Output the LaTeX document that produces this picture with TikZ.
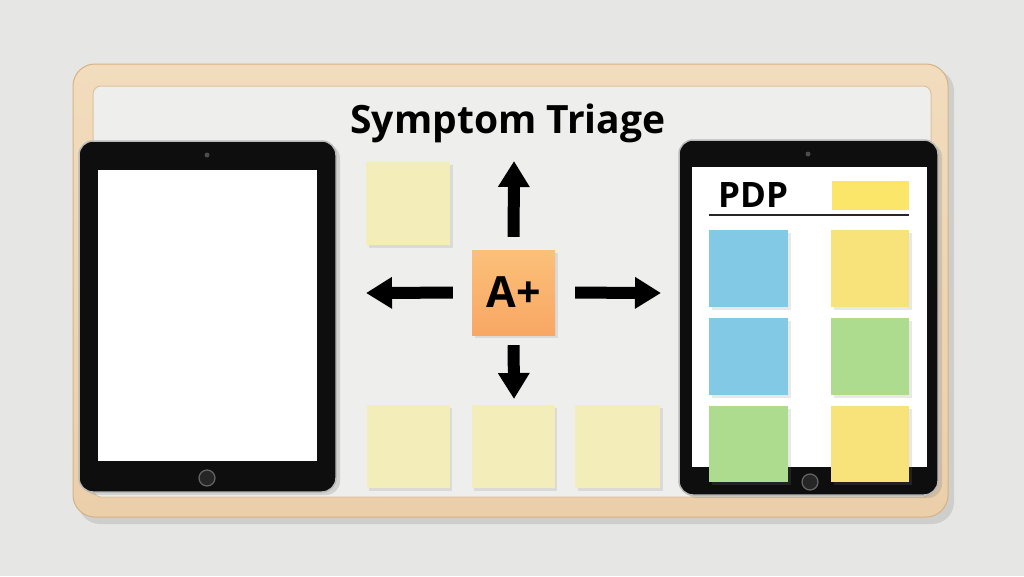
\documentclass[tikz,border=0pt]{standalone}
\usepackage{fontspec}
\setmainfont{Open Sans}
\usetikzlibrary{arrows.meta,shadows}
\definecolor{wall}{HTML}{E6E6E4}
\definecolor{wood}{HTML}{EBCFAA}
\definecolor{woodlight}{HTML}{F1DCBD}
\definecolor{wooddark}{HTML}{D6B285}
\definecolor{board}{HTML}{EEEEED}
\definecolor{pale}{HTML}{F3EDB9}
\definecolor{skyb}{HTML}{82C9E6}
\definecolor{sunny}{HTML}{F8E27A}
\definecolor{leaf}{HTML}{AEDC8E}
\definecolor{brightyel}{HTML}{FBE66A}
\definecolor{orangetop}{HTML}{FBC07A}
\definecolor{orangebot}{HTML}{F8A763}
\definecolor{bezel}{HTML}{0E0E0E}
\tikzset{
  note/.style={inner sep=0pt, draw=none,
    drop shadow={opacity=0.18, shadow xshift=2.5pt, shadow yshift=-2.5pt}},
  tabletbody/.style={fill=bezel, draw=gray!55, line width=1.5pt, rounded corners=14pt,
    drop shadow={opacity=0.25, shadow xshift=4pt, shadow yshift=-3pt}},
  screen/.style={fill=white, draw=none},
  bigarrow/.style={line width=12pt, -{Triangle[width=30pt,length=26pt]}},
  txt/.style={font=\bfseries, text=black, inner sep=0pt}
}
\begin{document}
\begin{tikzpicture}[x=1pt,y=-1pt]
\useasboundingbox (0,0) rectangle (1024,576);
\fill[wall] (0,0) rectangle (1024,576);
% frame
\fill[black, opacity=0.10, rounded corners=22pt] (78,69) rectangle (954,524);
\path[top color=woodlight, bottom color=wood, draw=wooddark, line width=1pt, rounded corners=22pt] (73,64) rectangle (948,517);
\path[fill=board, draw=wooddark!80, line width=1pt, rounded corners=8pt] (93,86) rectangle (931,497);
% left tablet
\node[tabletbody, minimum width=257pt, minimum height=351pt] (ltab) at (207.5,316.5) {};
\node[screen, minimum width=219pt, minimum height=291pt] (lscr) at (207.5,315.5) {};
\node[circle, fill=black!70, minimum size=5pt, inner sep=0pt] (lcam) at (207,155) {};
\node[circle, fill=black!85, draw=black!60, line width=1.2pt, minimum size=16pt, inner sep=0pt] (lhome) at (207,478) {};
% right tablet
\node[tabletbody, minimum width=259pt, minimum height=355pt] (rtab) at (808.5,317.5) {};
\node[screen, minimum width=235pt, minimum height=300pt] (rscr) at (809.5,317) {};
\node[circle, fill=black!70, minimum size=5pt, inner sep=0pt] (rcam) at (808,154) {};
\node[circle, fill=black!85, draw=black!60, line width=1.2pt, minimum size=16pt, inner sep=0pt] (rhome) at (810,482) {};
% PDP header
\node[txt, font=\bfseries\fontsize{35}{35}\selectfont, anchor=west] (pdp) at (718,195) {PDP};
\node[fill=brightyel, inner sep=0pt, minimum width=77pt, minimum height=29pt] (hdr) at (870,195.5) {};
\coordinate (lineL) at (709,214.5);
\coordinate (lineR) at (909,214.5);
\draw[line width=2pt, black!85] (lineL) -- (lineR);
% right tablet notes
\node[note, fill=skyb, minimum width=79pt, minimum height=77pt] (r11) at (748.5,268.5) {};
\node[note, fill=sunny, minimum width=78pt, minimum height=77pt] (r12) at (870,268.5) {};
\node[note, fill=skyb, minimum width=79pt, minimum height=77pt] (r21) at (748.5,356.5) {};
\node[note, fill=leaf, minimum width=78pt, minimum height=77pt] (r22) at (870,356.5) {};
\node[note, fill=leaf, minimum width=79pt, minimum height=76pt] (r31) at (748.5,444) {};
\node[note, fill=sunny, minimum width=78pt, minimum height=76pt] (r32) at (870,444) {};
% title
\node[txt, font=\bfseries\fontsize{39}{39}\selectfont] (title) at (508,123) {Symptom Triage};
% pale notes
\node[note, fill=pale, minimum width=84pt, minimum height=83pt] (p0) at (408,203.5) {};
\node[note, fill=pale, minimum width=83pt, minimum height=83pt] (p1) at (408,446.5) {};
\node[note, fill=pale, minimum width=83pt, minimum height=83pt] (p2) at (513,446.5) {};
\node[note, fill=pale, minimum width=85pt, minimum height=83pt] (p3) at (617.5,446.5) {};
% A+ note
\node[note, top color=orangetop, bottom color=orangebot, minimum width=83pt, minimum height=85pt,
  font=\bfseries\fontsize{43}{43}\selectfont] (aplus) at (513.5,292.5) {A+};
% arrows
\coordinate (upT) at (514,161);
\coordinate (leftT) at (366,293);
\coordinate (rightT) at (661,293);
\coordinate (downT) at (514,399);
\draw[bigarrow, shorten <=13pt] (aplus.north) -- (upT);
\draw[bigarrow, shorten <=19pt] (aplus.west) -- (leftT);
\draw[bigarrow, shorten <=20pt] (aplus.east) -- (rightT);
\draw[bigarrow, shorten <=10pt] (aplus.south) -- (downT);
\end{tikzpicture}
\end{document}
